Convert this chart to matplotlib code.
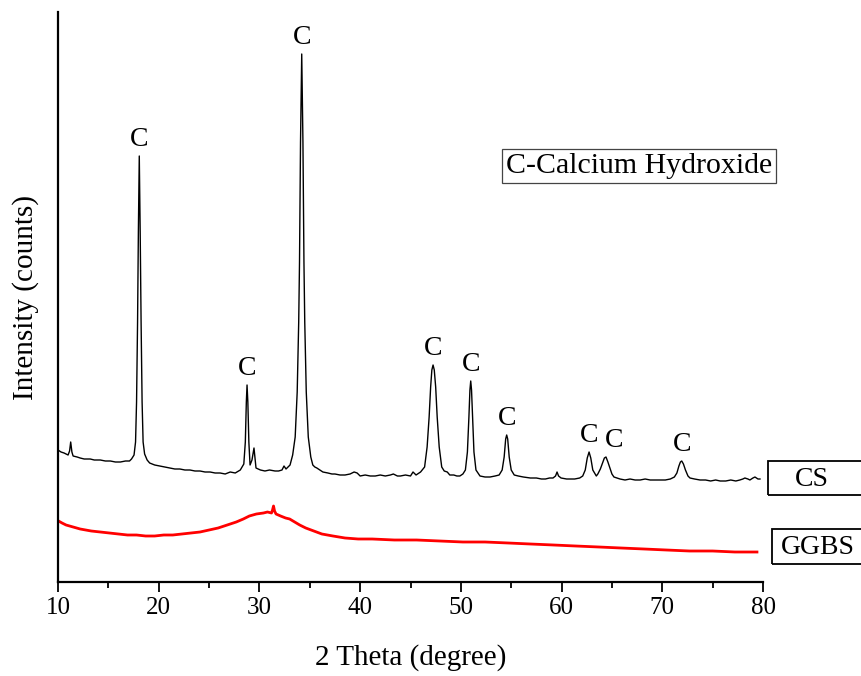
import numpy as np
import matplotlib
matplotlib.use("Agg")
import matplotlib.pyplot as plt
from matplotlib.patches import Rectangle

plt.rcParams['font.family'] = ['Liberation Serif', 'DejaVu Serif']

# CS pattern (2theta, intensity a.u.)
cs_2theta = [10.0, 10.3, 10.6, 10.8, 11.0, 11.15, 11.26, 11.38, 11.5, 11.9, 12.2, 12.6, 13.2, 13.6,
             14.2, 14.7, 15.2, 15.7, 16.2, 16.7, 17.1, 17.3, 17.55, 17.7, 17.8, 17.9, 17.98, 18.07,
             18.16, 18.25, 18.35, 18.45, 18.6, 18.85, 19.1, 19.6, 20.1, 20.6, 21.1, 21.6, 22.1, 22.6,
             23.1, 23.6, 24.1, 24.6, 25.1, 25.6, 26.1, 26.6, 27.1, 27.6, 28.1, 28.45, 28.6, 28.7,
             28.77, 28.85, 28.95, 29.07, 29.26, 29.46, 29.66, 30.1, 30.55, 31.0, 31.55, 31.9, 32.24,
             32.44, 32.64, 33.04, 33.3, 33.55, 33.75, 33.9, 33.98, 34.08, 34.2, 34.32, 34.42, 34.5,
             34.65, 34.85, 35.1, 35.3, 35.5, 35.7, 36.0, 36.3, 36.8, 37.2, 37.5, 38.0, 38.5, 39.0,
             39.4, 39.7, 40.0, 40.5, 41.0, 41.5, 42.0, 42.5, 43.0, 43.3, 43.7, 44.0, 44.5, 45.0,
             45.25, 45.55, 46.0, 46.4, 46.65, 46.85, 47.0, 47.12, 47.24, 47.36, 47.5, 47.65, 47.85,
             48.1, 48.35, 48.65, 48.9, 49.3, 49.6, 49.9, 50.2, 50.45, 50.65, 50.8, 50.9, 50.98, 51.06,
             51.16, 51.3, 51.5, 51.9, 52.4, 52.9, 53.4, 53.8, 54.1, 54.3, 54.45, 54.55, 54.65, 54.8,
             55.0, 55.3, 55.7, 56.2, 56.9, 57.5, 58.0, 58.4, 58.8, 59.15, 59.4, 59.55, 59.7, 59.95,
             60.5, 61.0, 61.3, 61.8, 62.1, 62.35, 62.55, 62.73, 62.9, 63.1, 63.45, 63.6, 63.85, 64.1,
             64.25, 64.41, 64.6, 64.8, 65.0, 65.2, 65.8, 66.3, 66.8, 67.3, 67.8, 68.3, 68.8, 69.3,
             69.8, 70.3, 70.8, 71.2, 71.45, 71.65, 71.8, 71.93, 72.1, 72.3, 72.55, 72.75, 73.2, 73.75,
             74.3, 74.8, 75.3, 75.75, 76.3, 76.8, 77.3, 77.7, 78.0, 78.2, 78.5, 78.7, 79.0, 79.2,
             79.5, 79.7]
cs_counts = [132, 130, 129, 128, 127, 131, 140, 130, 126, 125, 124, 123, 123, 122,
             122, 121, 121, 120, 120, 121, 121, 123, 127, 140, 180, 260, 350, 426,
             350, 260, 180, 140, 128, 122, 119, 117, 116, 115, 114, 113, 113, 112,
             112, 111, 111, 110, 110, 109, 109, 108, 110, 109, 112, 118, 140, 180,
             197, 180, 140, 117, 122, 134, 114, 112, 111, 112, 111, 111, 112,
             116, 113, 117, 127, 145, 190, 260, 320, 440, 528, 440, 320, 260,
             190, 145, 125, 117, 115, 114, 112, 110, 109, 108, 108, 107, 107, 108,
             110, 109, 106, 107, 106, 106, 107, 106, 107, 108, 106, 106, 107, 106,
             110, 107, 110, 115, 135, 165, 195, 212, 217, 212, 195, 165, 135,
             115, 111, 110, 107, 107, 106, 106, 108, 112, 130, 165, 192, 201, 192,
             165, 130, 112, 106, 105, 105, 106, 107, 112, 125, 143, 147, 143, 125,
             112, 107, 106, 105, 104, 104, 103, 103, 104, 104, 106, 110, 106, 104,
             103, 103, 103, 104, 106, 112, 124, 130, 124, 112, 106, 108, 113, 120,
             124, 125, 120, 114, 108, 105, 103, 102, 103, 102, 102, 103, 102, 102,
             102, 102, 103, 105, 109, 116, 120, 121, 118, 112, 106, 104, 103, 102,
             102, 101, 102, 101, 101, 102, 101, 102, 103, 104, 103, 102, 104, 105,
             103, 103]

# GGBS pattern
gg_2theta = [10.05, 10.4, 10.8, 11.5, 12.2, 13.3, 14.2, 15.1, 16.0, 16.9, 17.8, 18.7, 19.6, 20.5,
             21.4, 22.3, 23.2, 24.1, 25.0, 25.9, 26.8, 27.7, 28.4, 29.0, 29.7, 30.4, 30.8, 31.2,
             31.3, 31.4, 31.5, 31.65, 32.1, 32.6, 33.0, 33.5, 34.0, 34.6, 35.4, 36.2, 37.3, 38.5,
             39.8, 41.2, 43.4, 45.6, 47.9, 50.2, 52.4, 54.7, 56.9, 59.2, 61.4, 63.7, 65.9, 68.2,
             70.4, 72.7, 75.0, 77.2, 79.4]
gg_counts = [61, 59, 57, 55, 53, 51, 50, 49, 48, 47, 47, 46, 46, 47,
             47, 48, 49, 50, 52, 54, 57, 60, 63, 66, 68, 69, 70, 69,
             72, 76, 71, 68, 66, 64, 63, 60, 57, 54, 51, 48, 46, 44,
             43, 43, 42, 42, 41, 40, 40, 39, 38, 37, 36, 35, 34, 33,
             32, 31, 31, 30, 30]

# calcium hydroxide peaks marked "C"
c_peaks = [18.07, 28.77, 34.2, 47.24, 50.98, 54.55, 62.73, 64.41, 71.93]
c_heights = [426, 197, 528, 217, 201, 147, 130, 125, 121]

fig = plt.figure(figsize=(8.61, 6.76), dpi=100)
ax = fig.add_axes([58 / 861, 1 - 582 / 676, 705 / 861, 570 / 676])

ax.plot(cs_2theta, cs_counts, color='black', lw=1.0)
ax.plot(gg_2theta, gg_counts, color='red', lw=2.0)

for px, h in zip(c_peaks, c_heights):
    dx = 6 if 64 < px < 65 else 0
    ax.annotate('C', xy=(px, h), xytext=(dx, 3), textcoords='offset points',
                ha='center', va='bottom', fontsize=20)

ax.set_xlim(10, 80)
ax.set_ylim(0, 570)
ax.set_xticks(np.arange(10, 81, 10))
ax.set_xticks(np.arange(15, 80, 10), minor=True)
ax.set_yticks([])
ax.tick_params(axis='x', which='major', length=7, width=1.3, labelsize=18, direction='out')
ax.tick_params(axis='x', which='minor', length=4, width=1.3, direction='out')
for s in ['top', 'right']:
    ax.spines[s].set_visible(False)
for s in ['left', 'bottom']:
    ax.spines[s].set_linewidth(1.6)

ax.set_xlabel('2 Theta (degree)', fontsize=21, labelpad=18)
ax.set_ylabel('Intensity (counts)', fontsize=21, labelpad=14)

fig.text(639 / 861, 1 - 166 / 676, 'C-Calcium Hydroxide', fontsize=21.5, ha='center', va='center',
         bbox=dict(boxstyle='square,pad=0.12', fc='white', ec='#444444', lw=0.9))

fig.patches.append(Rectangle((768 / 861, 1 - 495 / 676), 100 / 861, 34 / 676, transform=fig.transFigure,
                             fill=False, ec='black', lw=1.3))
fig.text(812 / 861, 1 - 479 / 676, 'CS', fontsize=20, ha='center', va='center')
fig.patches.append(Rectangle((772 / 861, 1 - 564 / 676), 100 / 861, 35 / 676, transform=fig.transFigure,
                             fill=False, ec='black', lw=1.3))
fig.text(818 / 861, 1 - 548 / 676, 'GGBS', fontsize=20, ha='center', va='center')

fig.savefig('out.png', dpi=100)
